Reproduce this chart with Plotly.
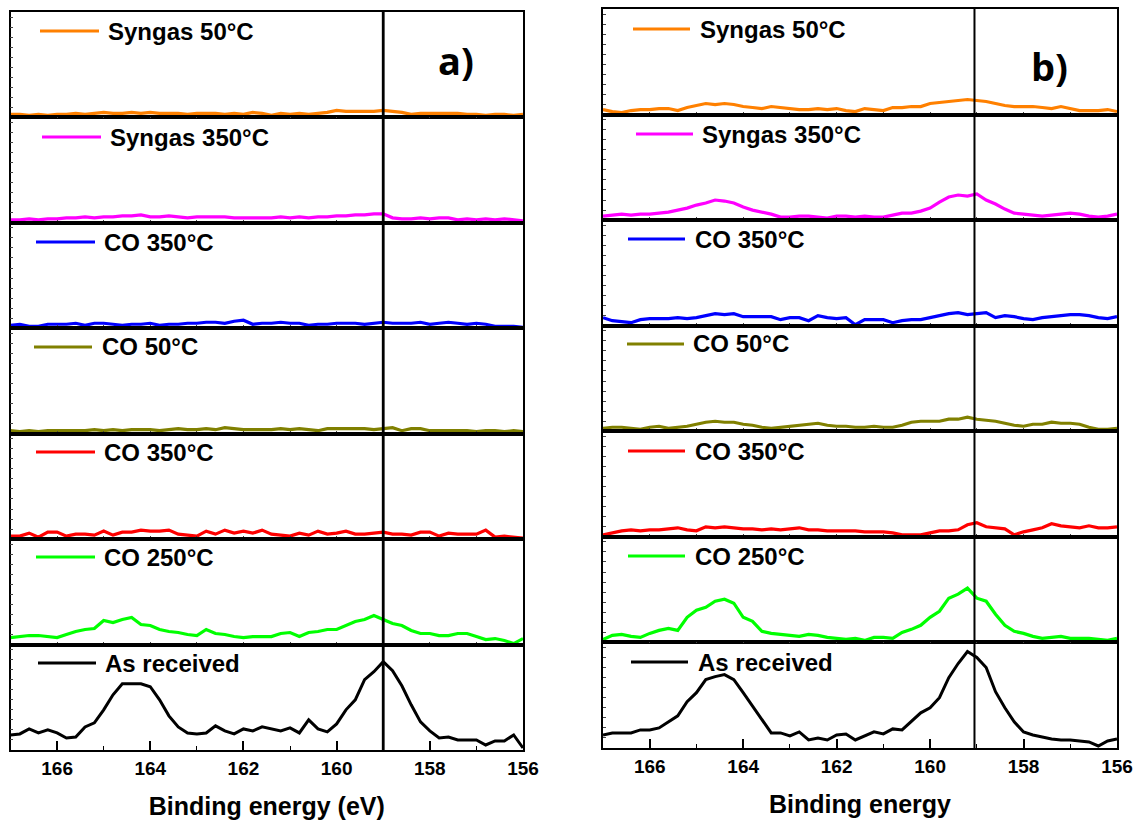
import plotly.graph_objects as go

# Binding energy grid (eV)
energy = [167.0, 166.8, 166.6, 166.4, 166.2, 166.0, 165.8, 165.6, 165.4, 165.2,
          165.0, 164.8, 164.6, 164.4, 164.2, 164.0, 163.8, 163.6, 163.4, 163.2,
          163.0, 162.8, 162.6, 162.4, 162.2, 162.0, 161.8, 161.6, 161.4, 161.2,
          161.0, 160.8, 160.6, 160.4, 160.2, 160.0, 159.8, 159.6, 159.4, 159.2,
          159.0, 158.8, 158.6, 158.4, 158.2, 158.0, 157.8, 157.6, 157.4, 157.2,
          157.0, 156.8, 156.6, 156.4, 156.2, 156.0]

labels = ["Syngas 50°C", "Syngas 350°C", "CO 350°C", "CO 50°C", "CO 350°C", "CO 250°C", "As received"]
colors = ["#FF8000", "#FF00FF", "#0000FF", "#808000", "#FF0000", "#00FF00", "#000000"]

# ---- panel a) intensities (a.u.) ----
a_orange = [3, 3, 2, 3, 2, 3, 3, 4, 3, 4, 5, 4, 4, 5, 4, 5, 4, 4, 4, 3,
            4, 4, 4, 3, 4, 3, 5, 4, 2, 4, 3, 4, 3, 4, 5, 7, 6, 6, 6, 6,
            7, 6, 5, 3, 4, 4, 4, 4, 4, 3, 3, 2, 3, 3, 2, 3]
a_magenta = [3, 3, 4, 3, 4, 4, 5, 5, 6, 5, 6, 6, 7, 7, 8, 6, 6, 7, 6, 5,
             6, 6, 6, 6, 5, 5, 5, 5, 5, 6, 5, 6, 5, 6, 6, 7, 7, 8, 8, 9,
             9, 5, 4, 4, 5, 4, 5, 5, 3, 4, 3, 4, 3, 4, 3, 2]
a_blue = [3, 4, 2, 2, 4, 4, 4, 5, 3, 5, 5, 4, 3, 4, 4, 5, 3, 4, 4, 5,
          5, 6, 6, 5, 7, 8, 4, 5, 5, 6, 5, 5, 3, 4, 4, 5, 5, 5, 4, 5,
          6, 5, 5, 5, 6, 4, 5, 6, 5, 4, 5, 4, 2, 2, 2, 1]
a_olive = [3, 2, 3, 2, 3, 3, 3, 3, 3, 4, 3, 4, 3, 4, 4, 4, 3, 4, 5, 4,
           4, 5, 4, 6, 5, 4, 4, 4, 4, 5, 4, 5, 4, 3, 5, 5, 5, 5, 5, 4,
           5, 6, 3, 5, 5, 3, 3, 3, 3, 3, 2, 3, 3, 2, 3, 2]
a_red = [3, 3, 6, 2, 7, 7, 3, 5, 5, 4, 8, 4, 7, 7, 9, 8, 8, 9, 5, 4,
         3, 8, 5, 9, 6, 8, 6, 9, 5, 4, 3, 6, 4, 8, 5, 6, 8, 5, 5, 6,
         7, 5, 5, 4, 7, 7, 3, 6, 5, 5, 5, 9, 2, 3, 2, 1]
a_green = [7, 8, 9, 9, 8, 7, 10, 13, 15, 16, 24, 22, 25, 27, 20, 19, 15, 13, 12, 10,
           9, 15, 11, 10, 8, 7, 8, 8, 8, 11, 12, 8, 12, 13, 15, 15, 19, 23, 25, 29,
           25, 21, 19, 14, 11, 11, 9, 9, 11, 11, 8, 5, 6, 4, 1, 6]
a_black = [15, 16, 21, 17, 20, 17, 12, 13, 23, 27, 40, 55, 66, 66, 66, 63, 50, 34, 23, 17,
           16, 17, 24, 19, 16, 21, 19, 23, 21, 19, 22, 17, 30, 21, 18, 26, 40, 50, 70, 78,
           88, 79, 64, 45, 28, 19, 12, 13, 10, 10, 10, 5, 9, 9, 15, 2]

# ---- panel b) intensities (a.u.) ----
b_orange = [5, 3, 2, 4, 5, 5, 6, 6, 4, 7, 9, 11, 10, 11, 10, 8, 7, 6, 8, 7,
            6, 5, 5, 6, 5, 6, 4, 3, 6, 5, 4, 7, 7, 8, 8, 11, 12, 13, 14, 15,
            14, 13, 11, 9, 8, 8, 8, 7, 6, 8, 6, 4, 4, 4, 5, 3]
b_magenta = [4, 5, 6, 5, 6, 6, 7, 8, 10, 12, 15, 17, 20, 19, 17, 13, 10, 8, 6, 3,
             3, 4, 4, 3, 2, 4, 4, 3, 4, 3, 3, 5, 7, 7, 9, 12, 18, 23, 25, 24,
             26, 20, 16, 11, 7, 6, 5, 4, 5, 6, 7, 6, 4, 3, 4, 6]
b_blue = [8, 5, 4, 3, 6, 7, 7, 7, 8, 7, 8, 10, 12, 11, 12, 9, 9, 9, 9, 6,
          8, 8, 5, 10, 8, 7, 8, 1, 6, 6, 6, 3, 5, 6, 6, 8, 10, 12, 13, 11,
          12, 13, 8, 10, 9, 7, 6, 8, 9, 10, 11, 11, 10, 8, 7, 9]
b_olive = [3, 4, 4, 3, 2, 4, 5, 3, 4, 5, 7, 9, 10, 9, 9, 7, 6, 4, 3, 4,
           5, 6, 7, 8, 6, 5, 5, 4, 4, 5, 4, 4, 6, 9, 10, 10, 10, 12, 12, 14,
           12, 11, 10, 8, 6, 5, 7, 7, 9, 8, 8, 7, 4, 2, 2, 3]
b_red = [2, 4, 6, 7, 6, 7, 7, 8, 9, 7, 6, 10, 9, 10, 9, 8, 8, 7, 8, 7,
         8, 9, 7, 7, 6, 6, 6, 6, 5, 5, 5, 4, 2, 2, 2, 4, 6, 6, 7, 12,
         14, 10, 9, 8, 2, 5, 7, 9, 13, 11, 10, 9, 11, 9, 9, 10]
b_green = [3, 7, 8, 6, 5, 9, 12, 14, 12, 25, 32, 35, 41, 43, 39, 25, 21, 11, 9, 8,
           7, 6, 8, 7, 5, 4, 3, 4, 2, 5, 5, 4, 10, 13, 17, 25, 31, 44, 48, 54,
           44, 41, 28, 17, 11, 9, 6, 4, 5, 6, 4, 4, 4, 3, 2, 4]
b_black = [13, 15, 15, 15, 18, 18, 20, 26, 32, 46, 55, 68, 71, 73, 68, 55, 42, 29, 15, 15,
           12, 16, 8, 10, 8, 13, 14, 8, 12, 16, 14, 19, 18, 27, 35, 40, 50, 70, 84, 96,
           90, 80, 56, 40, 26, 16, 13, 11, 9, 8, 8, 7, 6, 2, 7, 9]

ref_line_a = 159.0
ref_line_b = 159.05
x_ticks = [166, 164, 162, 160, 158, 156]

series_a = [a_orange, a_magenta, a_blue, a_olive, a_red, a_green, a_black]
series_b = [b_orange, b_magenta, b_blue, b_olive, b_red, b_green, b_black]

# ---- layout geometry (pixels) ----
W, H = 1137, 820
FONT = "Liberation Sans, Arial, sans-serif"
panels = [
    dict(series=series_a, left=10.5, right=523, top=12, bottom=750, vline=ref_line_a, vw=2.8,
         tag="a)", tagx=456, tagy=60, title="Binding energy (eV)",
         leg=[(40, 99, 107, 31), (42, 101, 109, 137), (36, 95, 103, 242), (34, 92, 101, 347),
              (36, 95, 103, 452), (36, 95, 103, 557), (38, 96, 104, 663)]),
    dict(series=series_b, left=603, right=1117, top=9, bottom=748, vline=ref_line_b, vw=2.0,
         tag="b)", tagx=1049, tagy=66, title="Binding energy",
         leg=[(633, 690, 699, 29), (636, 693, 701, 134), (628, 685, 694, 239), (627, 684, 692, 344),
              (628, 685, 694, 451), (628, 685, 694, 556), (631, 688, 697, 662)]),
]

fig = go.Figure()
layout = dict(template="none", width=W, height=H,
              margin=dict(l=0, r=0, t=0, b=0, pad=0, autoexpand=False),
              paper_bgcolor="white", plot_bgcolor="white", showlegend=False)
shapes, annotations = [], []


def px_x(p):
    return p / W


def px_y(p):
    return 1 - p / H


for pi, P in enumerate(panels):
    h = (P["bottom"] - P["top"]) / 7.0
    for r in range(7):
        k = pi * 7 + r + 1
        xa = "xaxis" if k == 1 else f"xaxis{k}"
        ya = "yaxis" if k == 1 else f"yaxis{k}"
        xs = "x" if k == 1 else f"x{k}"
        ys = "y" if k == 1 else f"y{k}"
        fig.add_trace(go.Scatter(x=energy, y=P["series"][r], mode="lines",
                                 line=dict(color=colors[r], width=3.2 if r < 6 else 3),
                                 xaxis=xs, yaxis=ys, hoverinfo="skip"))
        bottom_row = (r == 6)
        xdict = dict(domain=[px_x(P["left"]), px_x(P["right"])], range=[167, 156], anchor=ys,
                     showline=True, linecolor="black", linewidth=1.8, mirror=True,
                     showgrid=False, zeroline=False, automargin=False)
        if bottom_row:
            xdict.update(tickvals=x_ticks, ticks="inside", ticklen=9, tickwidth=1.6, tickcolor="black",
                         showticklabels=True,
                         tickfont=dict(family=FONT, size=19, color="black", weight="bold"),
                         minor=dict(tickvals=[167, 165, 163, 161, 159, 157], ticks="inside",
                                    ticklen=4, tickwidth=1, tickcolor="black"),
                         title=dict(text=P["title"], standoff=20,
                                    font=dict(family=FONT, size=25, color="black", weight="bold")))
        else:
            xdict.update(ticks="inside", dtick=1, tick0=156, ticklen=3, tickwidth=1,
                         tickcolor="#444", showticklabels=False)
        top_px = P["top"] + r * h
        bot_px = P["top"] + (r + 1) * h
        ydict = dict(domain=[px_y(bot_px), px_y(top_px)], range=[0, 105], anchor=xs,
                     showline=True, linecolor="black", linewidth=1.8, mirror=True,
                     showgrid=False, zeroline=False, showticklabels=False, automargin=False,
                     ticks="inside", dtick=10, ticklen=3, tickwidth=1, tickcolor="#444")
        layout[xa] = xdict
        layout[ya] = ydict

        # legend sample + label
        x0, x1, tx, ty = P["leg"][r]
        shapes.append(dict(type="line", xref="paper", yref="paper",
                           x0=px_x(x0), x1=px_x(x1), y0=px_y(ty), y1=px_y(ty),
                           line=dict(color=colors[r], width=3.2)))
        annotations.append(dict(text=labels[r], xref="paper", yref="paper",
                                x=px_x(tx), y=px_y(ty), xanchor="left", yanchor="middle",
                                showarrow=False, borderpad=0,
                                font=dict(family=FONT, size=24, color="black", weight="bold")))
    # vertical reference line across the whole stack
    kb = pi * 7 + 7
    shapes.append(dict(type="line", xref=f"x{kb}", yref="paper",
                       x0=P["vline"], x1=P["vline"], y0=px_y(P["bottom"]), y1=px_y(P["top"]),
                       line=dict(color="black", width=P["vw"])))
    annotations.append(dict(text=P["tag"], xref="paper", yref="paper",
                            x=px_x(P["tagx"]), y=px_y(P["tagy"]), xanchor="center", yanchor="middle",
                            showarrow=False,
                            font=dict(family="Open Sans, Lato, sans-serif", size=38, color="black",
                                      weight="bold")))

layout["shapes"] = shapes
layout["annotations"] = annotations
fig.update_layout(**layout)
fig.write_html("out.html", config={"displayModeBar": False},
               post_script="document.body.style.margin='0';document.body.style.overflow='hidden';")
